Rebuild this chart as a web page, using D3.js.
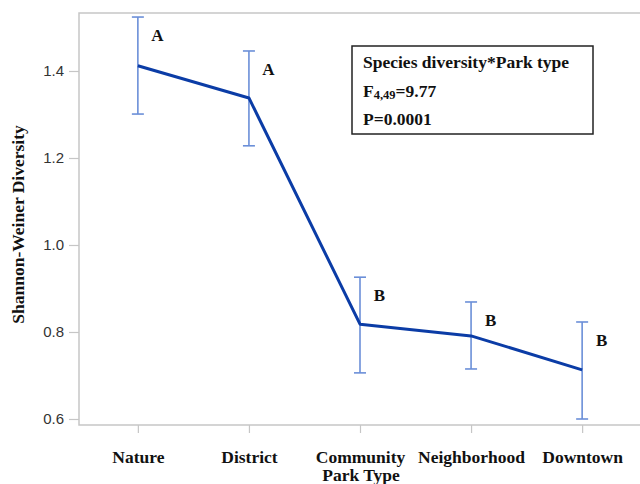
<!DOCTYPE html>
<html>
<head>
<meta charset="utf-8">
<script src="https://cdn.jsdelivr.net/npm/d3@7"></script>
<style>
  html, body { margin: 0; padding: 0; background: #fff; }
  svg { display: block; }
</style>
</head>
<body>
<svg id="chart" width="640" height="484"></svg>
<script>
// ---- data ----
const categories = ["Nature", "District", "Community", "Neighborhood", "Downtown"];
const means      = [1.412, 1.338, 0.818, 0.791, 0.713];
const upper      = [1.524, 1.446, 0.926, 0.869, 0.823];
const lower      = [1.301, 1.228, 0.706, 0.715, 0.600];
const groupLetters = ["A", "A", "B", "B", "B"];
const yTicks     = [0.6, 0.8, 1.0, 1.2, 1.4];
const statLines  = ["Species diversity*Park type", "F", "P=0.0001"];

(function () {
// ---- layout ----
const svg = d3.select("#chart");
const pLeft = 79, pTop = 13, pBottom = 425, pRight = 641;
const serif = "'Liberation Serif', 'Times New Roman', serif";
const sans = "'Liberation Sans', Arial, sans-serif";

const x = d3.scalePoint().domain(categories).range([pLeft, pRight]).padding(0.53);
const y = d3.scaleLinear().domain([0.5862, 1.5333]).range([pBottom, pTop]);

const frameColor = "#c6c6c6";

// frame (top, left, bottom)
svg.append("path")
  .attr("d", `M${pRight},${pTop}H${pLeft}V${pBottom}H${pRight}`)
  .attr("fill", "none").attr("stroke", frameColor).attr("stroke-width", 1.5);

// y axis
const yAxis = svg.append("g").attr("transform", `translate(${pLeft},0)`)
  .call(d3.axisLeft(y).tickValues(yTicks).tickFormat(d3.format(".1f")).tickSize(10).tickPadding(5));
yAxis.select(".domain").remove();
yAxis.selectAll("line").attr("stroke", frameColor).attr("stroke-width", 1.2);
yAxis.selectAll("text").attr("font-family", sans).attr("font-size", 15).attr("fill", "#333");

// x axis
const xAxis = svg.append("g").attr("transform", `translate(0,${pBottom})`)
  .call(d3.axisBottom(x).tickSize(8).tickPadding(14));
xAxis.select(".domain").remove();
xAxis.selectAll("line").attr("stroke", frameColor).attr("stroke-width", 1.2);
xAxis.selectAll("text").attr("font-family", serif).attr("font-weight", "bold")
  .attr("font-size", 17.5).attr("fill", "#111").attr("dy", "0.9em");

// axis titles
svg.append("text").attr("x", 361).attr("y", 481).attr("text-anchor", "middle")
  .attr("font-family", serif).attr("font-weight", "bold").attr("font-size", 17.5).attr("fill", "#111")
  .text("Park Type");
svg.append("text").attr("transform", "translate(24,224.5) rotate(-90)").attr("text-anchor", "middle")
  .attr("font-family", serif).attr("font-weight", "bold").attr("font-size", 17.5).attr("fill", "#111")
  .text("Shannon-Weiner Diversity");

// error bars
const errColor = "#6b8fd8";
const eb = svg.append("g").attr("stroke", errColor).attr("stroke-width", 1.6).attr("fill", "none");
categories.forEach((c, i) => {
  const cx = x(c);
  eb.append("line").attr("x1", cx).attr("x2", cx).attr("y1", y(upper[i])).attr("y2", y(lower[i]));
  eb.append("line").attr("x1", cx - 6).attr("x2", cx + 6).attr("y1", y(upper[i])).attr("y2", y(upper[i]));
  eb.append("line").attr("x1", cx - 6).attr("x2", cx + 6).attr("y1", y(lower[i])).attr("y2", y(lower[i]));
});

// mean line
const line = d3.line().x((d, i) => x(categories[i])).y(d => y(d));
svg.append("path").datum(means).attr("d", line)
  .attr("fill", "none").attr("stroke", "#0b3ca6").attr("stroke-width", 3).attr("stroke-linejoin", "round");

// group letters
categories.forEach((c, i) => {
  svg.append("text").attr("x", x(c) + 19.5).attr("y", y(upper[i]) + 24)
    .attr("text-anchor", "middle").attr("font-family", serif).attr("font-weight", "bold")
    .attr("font-size", 17).attr("fill", "#111").text(groupLetters[i]);
});

// stats box
svg.append("rect").attr("x", 352).attr("y", 46).attr("width", 241).attr("height", 88)
  .attr("fill", "#fff").attr("stroke", "#222").attr("stroke-width", 1.5);
const st = { "font-family": serif, "font-weight": "bold", "font-size": 17.5, "fill": "#111" };
function styled(sel) { Object.entries(st).forEach(([k, v]) => sel.attr(k, v)); return sel; }
styled(svg.append("text").attr("x", 363).attr("y", 68)).text(statLines[0]);
const t2 = styled(svg.append("text").attr("x", 363).attr("y", 97));
t2.append("tspan").text(statLines[1]);
t2.append("tspan").attr("font-size", 12.5).attr("dy", 2).text("4,49");
t2.append("tspan").attr("dy", -2).text("=9.77");
styled(svg.append("text").attr("x", 363).attr("y", 125)).text(statLines[2]);
})();
</script>
</body>
</html>
